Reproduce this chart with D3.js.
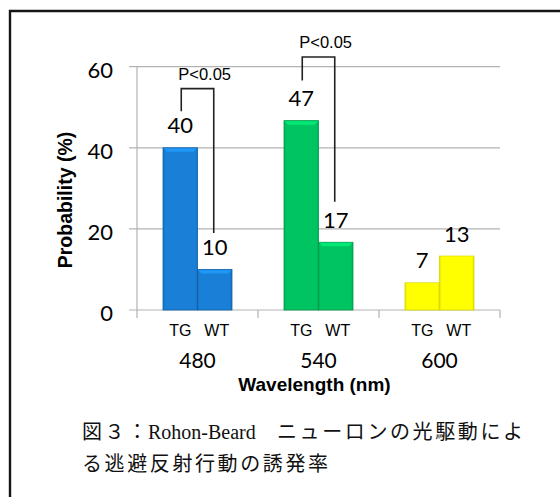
<!DOCTYPE html>
<html><head><meta charset="utf-8">
<script src="https://cdn.jsdelivr.net/npm/d3@7"></script>
<style>html,body{margin:0;padding:0;background:#fff;}svg{display:block;}</style>
</head><body>
<script>
const categories = ["480", "540", "600"];
const groups = ["TG", "WT"];
const tgValues = [40, 46.7, 6.7];
const wtValues = [10, 16.7, 13.3];
const yTicks = [0, 20, 40, 60];
const barColors = ["#1a7fd6", "#00c462", "#ffff00"];
const barEdges = ["#0d5fa8", "#009a4a", "#d6d600"];
const sigCats = ["480", "540"];
const sigTop = [54.6, 62.4];
const sigLeftEnd = [49, 56.6];
const sigRightEnd = [19, 26.7];
const sigLabel = "P<0.05";
const xTitle = "Wavelength (nm)";
const yTitle = "Probability (%)";
const caption1a = "図３：";
const caption1b = "Rohon-Beard";
const caption1c = "ニューロンの光駆動によ";
const caption2 = "る逃避反射行動の誘発率";

const W = 560, H = 497;
const svg = d3.select("body").append("svg").attr("width", W).attr("height", H);

// frame (top + left visible)
svg.append("path").attr("d", "M10,520 L10,11 L580,11").attr("fill", "none")
  .attr("stroke", "#151515").attr("stroke-width", 2.4);

const plot = {left: 137, right: 500, top: 66.7, bottom: 310};
const y = d3.scaleLinear().domain([0, 60]).range([plot.bottom, plot.top]);
const x0 = d3.scaleBand().domain(categories).range([plot.left, plot.right])
  .paddingInner(0.43).paddingOuter(0.215);
const x1 = d3.scaleBand().domain(groups).range([0, x0.bandwidth()]);
const step = x0.step();
const catStart = c => x0(c) - step * 0.215;

const numFont = "Lato, 'Open Sans', sans-serif";
const arial = "'Liberation Sans', Arial, sans-serif";

// gridlines
const grid = svg.append("g");
yTicks.forEach(t => {
  grid.append("line").attr("x1", plot.left - 8).attr("x2", plot.right)
    .attr("y1", y(t)).attr("y2", y(t)).attr("stroke", "#b3b3b3").attr("stroke-width", 1.2);
});
// y axis line
svg.append("line").attr("x1", plot.left).attr("x2", plot.left)
  .attr("y1", y(60)).attr("y2", y(0)).attr("stroke", "#b3b3b3").attr("stroke-width", 1.2);
// x ticks (category boundaries)
const bounds = categories.map(catStart).concat([plot.right]);
bounds.forEach(b => {
  svg.append("line").attr("x1", b).attr("x2", b).attr("y1", y(0)).attr("y2", y(0) + 8)
    .attr("stroke", "#b3b3b3").attr("stroke-width", 1.2);
});

// y tick labels
svg.append("g").selectAll("text").data(yTicks).join("text")
  .attr("x", 113).attr("y", d => y(d) + 11).attr("text-anchor", "end")
  .attr("font-family", numFont).attr("font-size", 22).attr("fill", "#000").text(d => d);

// bars
const defs = svg.append("defs");
categories.forEach((c, i) => {
  const g = defs.append("linearGradient").attr("id", "grad" + i).attr("x1", 0).attr("x2", 1).attr("y1", 0).attr("y2", 0);
  const base = d3.color(barColors[i]);
  g.append("stop").attr("offset", 0).attr("stop-color", d3.color(barColors[i]).darker(0.35));
  g.append("stop").attr("offset", 0.06).attr("stop-color", base);
  g.append("stop").attr("offset", 0.94).attr("stop-color", base);
  g.append("stop").attr("offset", 1).attr("stop-color", d3.color(barColors[i]).darker(0.35));
});
const rows = [];
categories.forEach((c, i) => {
  rows.push({cat: c, grp: "TG", v: tgValues[i], ci: i});
  rows.push({cat: c, grp: "WT", v: wtValues[i], ci: i});
});
const bars = svg.append("g");
rows.forEach(d => {
  const bx = x0(d.cat) + x1(d.grp), bw = x1.bandwidth();
  bars.append("rect").attr("x", bx).attr("y", y(d.v)).attr("width", bw).attr("height", y(0) - y(d.v))
    .attr("fill", "url(#grad" + d.ci + ")").attr("stroke", barEdges[d.ci]).attr("stroke-width", 0.8);
  bars.append("path")
    .attr("d", `M${bx + 0.5},${y(d.v) + 0.5} L${bx + bw - 0.5},${y(d.v) + 0.5} L${bx + bw - 4},${y(d.v) + 4} L${bx + 4},${y(d.v) + 4} Z`)
    .attr("fill", d3.color(barColors[d.ci]).brighter(0.6)).attr("opacity", 0.8);
  svg.append("text").attr("x", bx + bw / 2).attr("y", y(d.v) - 14.5).attr("text-anchor", "middle")
    .attr("font-family", numFont).attr("font-size", 22).attr("fill", "#000").text(d3.format(".0f")(d.v));
  svg.append("text").attr("x", bx + bw / 2 + (d.grp === "WT" ? 2 : 0)).attr("y", 336).attr("text-anchor", "middle")
    .attr("font-family", arial).attr("font-size", 16).attr("fill", "#000").text(d.grp);
});

// category labels
svg.append("g").selectAll("text").data(categories).join("text")
  .attr("x", d => x0(d) + x0.bandwidth() / 2).attr("y", 368).attr("text-anchor", "middle")
  .attr("font-family", numFont).attr("font-size", 21).attr("fill", "#000").text(d => d);

// axis titles
svg.append("text").attr("x", (plot.left + plot.right) / 2 - 4).attr("y", 391).attr("text-anchor", "middle")
  .attr("font-family", arial).attr("font-weight", "bold").attr("font-size", 19).text(xTitle);
svg.append("text").attr("transform", `translate(72,200) rotate(-90)`).attr("text-anchor", "middle")
  .attr("font-family", arial).attr("font-weight", "bold").attr("font-size", 19.5).text(yTitle);

// significance brackets
sigCats.forEach((c, i) => {
  const lx = x0(c) + x1("TG") + x1.bandwidth() / 2 + 1;
  const rx = x0(c) + x1("WT") + x1.bandwidth() / 2 - 1;
  svg.append("path").attr("d", `M${lx},${y(sigLeftEnd[i])} V${y(sigTop[i])} H${rx} V${y(sigRightEnd[i])}`)
    .attr("fill", "none").attr("stroke", "#222").attr("stroke-width", 1.6);
  svg.append("text").attr("x", lx - 3).attr("y", y(sigTop[i]) - 9)
    .attr("font-family", arial).attr("font-size", 16.5).attr("fill", "#000").text(sigLabel);
});

// caption
const cjk = "'Noto Sans CJK JP', sans-serif";
const serif = "'Liberation Serif', 'DejaVu Serif', serif";
const cap = svg.append("text").attr("y", 439).attr("font-size", 20).attr("fill", "#111");
cap.append("tspan").attr("x", 82).attr("font-family", cjk).attr("letter-spacing", 2.6).text(caption1a);
cap.append("tspan").attr("x", 148).attr("font-family", serif).text(caption1b);
cap.append("tspan").attr("x", 277).attr("font-family", cjk).attr("letter-spacing", 2.6).text(caption1c);
svg.append("text").attr("x", 82).attr("y", 471).attr("font-size", 20).attr("fill", "#111")
  .attr("font-family", cjk).attr("letter-spacing", 2.6).text(caption2);
</script>
</body></html>
